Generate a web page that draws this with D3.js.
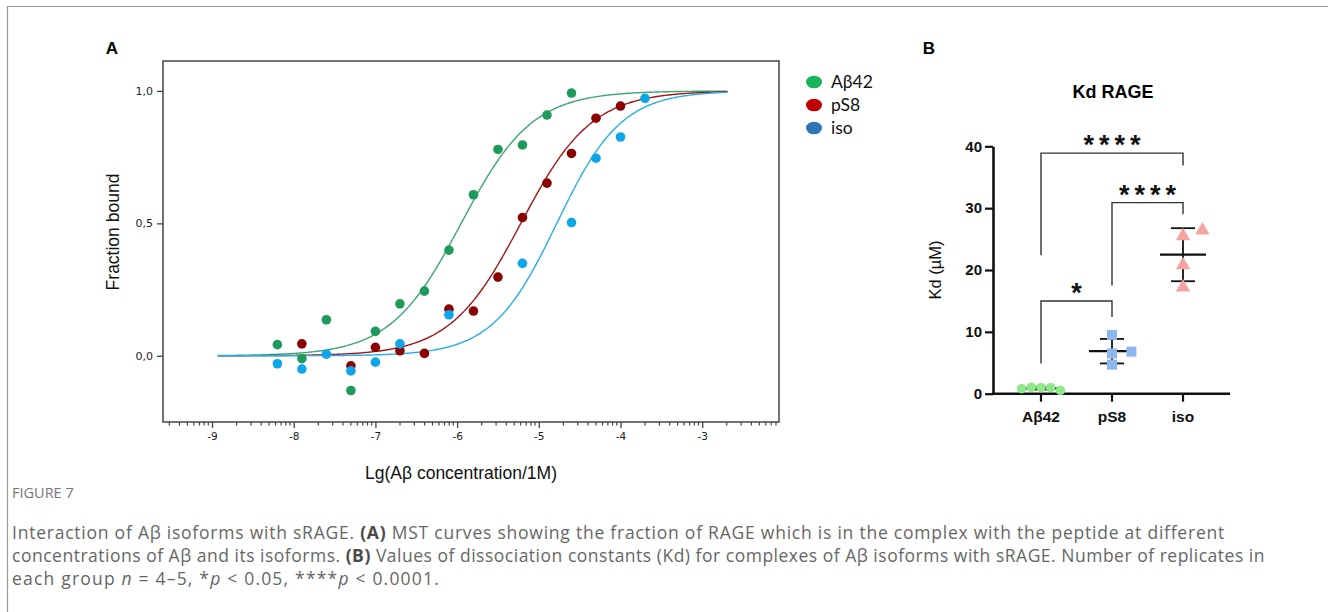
<!DOCTYPE html>
<html>
<head>
<meta charset="utf-8">
<script src="https://cdn.jsdelivr.net/npm/d3@7"></script>
<style>
  body { margin: 0; background: #fff; }
  svg { display: block; }
</style>
</head>
<body>
<svg id="fig" width="1328" height="612"></svg>
<script>
// ---- panel A data: MST binding points ----
const seriesNames = ['Aβ42', 'pS8', 'iso'];
const abX = [-8.2, -7.9, -7.6, -7.3, -7.0, -6.7, -6.4, -6.1, -5.8, -5.5, -5.2, -4.9, -4.6];
const abY = [0.042, -0.011, 0.136, -0.131, 0.092, 0.196, 0.244, 0.399, 0.608, 0.779, 0.796, 0.909, 0.992];
const ps8X = [-7.9, -7.3, -7.0, -6.7, -6.4, -6.1, -5.8, -5.5, -5.2, -4.9, -4.6, -4.3, -4.0];
const ps8Y = [0.045, -0.038, 0.032, 0.019, 0.009, 0.176, 0.169, 0.297, 0.522, 0.652, 0.764, 0.897, 0.943];
const isoX = [-8.2, -7.9, -7.6, -7.3, -7.0, -6.7, -6.1, -5.2, -4.6, -4.3, -4.0, -3.7];
const isoY = [-0.030, -0.050, 0.006, -0.057, -0.024, 0.045, 0.155, 0.349, 0.503, 0.746, 0.826, 0.972];
// fitted curve parameters (log Kd, Hill slope), curve range
const fitLogKd = [-5.95, -5.22, -4.78];
const fitHill = [1.0, 1.0, 1.1];
const fitRange = [-8.93, -2.68];
const yTicksA = [0, 0.5, 1];
const xTicksA = [-9, -8, -7, -6, -5, -4, -3];

// ---- panel B data: Kd values (µM) ----
const groups = ['Aβ42', 'pS8', 'iso'];
const kdAb = [0.97, 0.55, 0.81, 0.97, 1.03];
const kdPs8 = [9.5, 6.5, 4.7, 6.8];
const kdIso = [25.5, 26.4, 20.8, 17.2];
const yTicksB = [0, 10, 20, 30, 40];
// brackets: [group a, group b, bar level, left leg end, right leg end, label]
const brackets = [
  ['Aβ42', 'iso', 38.9, 22.4, 36.9, '****'],
  ['pS8', 'iso', 30.9, 17.5, 29.0, '****'],
  ['Aβ42', 'pS8', 15.0, 4.9, 12.4, '*']
];

const svg = d3.select('#fig');
svg.append('rect').attr('width', 1328).attr('height', 612).attr('fill', '#fff');

// figure frame
svg.append('path')
  .attr('d', 'M7.5,612 L7.5,6.5 L1328,6.5')
  .attr('fill', 'none').attr('stroke', '#999').attr('stroke-width', 1.2);

// ================= Panel A =================
const ptColors = ['#1f9a5c', '#8b0000', '#0ea5e9'];
const lineColors = ['#3aa86e', '#a01515', '#27aee8'];
const legendColors = ['#17b45a', '#c00000', '#2e75b6'];

const xA = d3.scaleLinear().domain([-9.6, -2.06]).range([163, 779]);
const yA = d3.scaleLinear().domain([-0.25, 1.113]).range([422, 61]);

const gA = svg.append('g');

gA.append('text').attr('x', 112).attr('y', 54).attr('text-anchor', 'middle')
  .attr('font-family', 'Liberation Sans, Arial, sans-serif').attr('font-weight', 'bold')
  .attr('font-size', 17).text('A');

// frame
gA.append('rect')
  .attr('x', xA.range()[0]).attr('y', yA.range()[1])
  .attr('width', xA.range()[1] - xA.range()[0])
  .attr('height', yA.range()[0] - yA.range()[1])
  .attr('fill', 'none').attr('stroke', '#444').attr('stroke-width', 1.5);

// y axis
const yAxisA = gA.append('g')
  .attr('transform', `translate(${xA.range()[0]},0)`)
  .call(d3.axisLeft(yA).tickValues(yTicksA).tickSize(6).tickPadding(4)
    .tickFormat(d => d3.format('.1f')(d).replace('.', ',')));
yAxisA.select('.domain').remove();
yAxisA.selectAll('line').attr('stroke', '#444').attr('stroke-width', 1.3);
yAxisA.selectAll('text').attr('font-family', 'DejaVu Sans, Verdana, sans-serif')
  .attr('font-size', 11).attr('fill', '#222');

// x axis: major ticks + log minor ticks
const xAxisA = gA.append('g')
  .attr('transform', `translate(0,${yA.range()[0]})`)
  .call(d3.axisBottom(xA).tickValues(xTicksA).tickSize(6).tickPadding(5)
    .tickFormat(d => String(d)));
xAxisA.select('.domain').remove();
xAxisA.selectAll('line').attr('stroke', '#444').attr('stroke-width', 1.3);
xAxisA.selectAll('text').attr('font-family', 'DejaVu Sans, Verdana, sans-serif')
  .attr('font-size', 10.5).attr('fill', '#222');

const minorTicks = [];
for (let dec = -10; dec <= -3; dec++) {
  for (let k = 2; k <= 9; k++) {
    const v = dec + Math.log10(k);
    if (v > xA.domain()[0] && v < xA.domain()[1]) minorTicks.push(v);
  }
}
gA.append('g').selectAll('line').data(minorTicks).join('line')
  .attr('x1', d => xA(d)).attr('x2', d => xA(d))
  .attr('y1', yA.range()[0]).attr('y2', yA.range()[0] + 3.5)
  .attr('stroke', '#444').attr('stroke-width', 1.2);

// axis titles
gA.append('text')
  .attr('transform', `translate(119,232) rotate(-90)`)
  .attr('text-anchor', 'middle')
  .attr('font-family', 'Liberation Sans, Arial, sans-serif').attr('font-size', 17.5)
  .attr('fill', '#111').text('Fraction bound');
gA.append('text')
  .attr('x', 461).attr('y', 479).attr('text-anchor', 'middle')
  .attr('font-family', 'Liberation Sans, Arial, sans-serif').attr('font-size', 17.5)
  .attr('fill', '#111').text('Lg(Aβ concentration/1M)');

// fitted curves
const curveX = d3.range(fitRange[0], fitRange[1] + 0.001, 0.02);
const line = d3.line().x(d => xA(d[0])).y(d => yA(d[1])).curve(d3.curveBasis);
fitLogKd.forEach((kd, i) => {
  const pts = curveX.map(x => [x, 1 / (1 + Math.pow(10, fitHill[i] * (kd - x)))]);
  gA.append('path').datum(pts)
    .attr('d', line).attr('fill', 'none')
    .attr('stroke', lineColors[i]).attr('stroke-width', 1.4);
});

// points
const seriesA = [[abX, abY], [ps8X, ps8Y], [isoX, isoY]];
seriesA.forEach(([xs, ys], i) => {
  gA.append('g').selectAll('circle').data(xs.map((x, j) => [x, ys[j]])).join('circle')
    .attr('cx', d => xA(d[0])).attr('cy', d => yA(d[1])).attr('r', 4.8)
    .attr('fill', ptColors[i]);
});

// legend
const leg = gA.append('g').attr('transform', 'translate(814,82)');
seriesNames.forEach((name, i) => {
  const row = leg.append('g').attr('transform', `translate(0,${i * 23})`);
  row.append('ellipse').attr('rx', 8).attr('ry', 6.3).attr('fill', legendColors[i]);
  row.append('text').attr('x', 17).attr('y', 6)
    .attr('font-family', 'Lato, Carlito, sans-serif').attr('font-size', 17.5)
    .attr('fill', '#111').text(name);
});

// ================= Panel B =================
const xB = d3.scalePoint().domain(groups).range([1041, 1183]);
const yB = d3.scaleLinear().domain([0, 40]).range([393.7, 146.3]);
const axisX0 = 993, axisX1 = 1230;
const gB = svg.append('g');
const arial = 'Liberation Sans, Arial, sans-serif';

gB.append('text').attr('x', 929).attr('y', 54).attr('text-anchor', 'middle')
  .attr('font-family', arial).attr('font-weight', 'bold').attr('font-size', 17).text('B');
gB.append('text').attr('x', 1113).attr('y', 98).attr('text-anchor', 'middle')
  .attr('font-family', arial).attr('font-weight', 'bold').attr('font-size', 18).text('Kd RAGE');

const yAxisB = gB.append('g').attr('transform', `translate(${axisX0},0)`)
  .call(d3.axisLeft(yB).tickValues(yTicksB).tickSize(8).tickPadding(3).tickSizeOuter(0));
yAxisB.select('.domain').attr('stroke', '#111').attr('stroke-width', 2.6);
yAxisB.selectAll('.tick line').attr('stroke', '#111').attr('stroke-width', 2.2);
yAxisB.selectAll('text').attr('font-family', arial).attr('font-weight', 'bold')
  .attr('font-size', 15).attr('fill', '#111');

// x axis line with category ticks
gB.append('line').attr('x1', axisX0 - 1.3).attr('x2', axisX1)
  .attr('y1', yB(0)).attr('y2', yB(0)).attr('stroke', '#111').attr('stroke-width', 2.6);
const xt = gB.append('g').selectAll('g').data(groups).join('g')
  .attr('transform', d => `translate(${xB(d)},${yB(0)})`);
xt.append('line').attr('y1', 0).attr('y2', 8).attr('stroke', '#111').attr('stroke-width', 2.2);
xt.append('text').attr('y', 28).attr('text-anchor', 'middle')
  .attr('font-family', arial).attr('font-weight', 'bold').attr('font-size', 15.5)
  .attr('fill', '#111').text(d => d);

gB.append('text')
  .attr('transform', `translate(941,${yB(20)}) rotate(-90)`)
  .attr('text-anchor', 'middle').attr('font-family', arial).attr('font-size', 16.5)
  .attr('fill', '#111').text('Kd (µM)');

// significance brackets
const bg = gB.append('g');
const starSpacing = 5;
brackets.forEach(([a, b, lvl, endA, endB, lab]) => {
  const xa = xB(a), xb = xB(b);
  bg.append('path')
    .attr('d', `M${xa},${yB(endA)} L${xa},${yB(lvl)} L${xb},${yB(lvl)} L${xb},${yB(endB)}`)
    .attr('fill', 'none').attr('stroke', '#333').attr('stroke-width', 1.4);
  bg.append('text').attr('x', (xa + xb) / 2 + starSpacing / 2).attr('y', yB(lvl) + 1)
    .attr('text-anchor', 'middle').attr('font-family', arial).attr('font-weight', 'bold')
    .attr('font-size', 27).attr('letter-spacing', starSpacing).attr('fill', '#111').text(lab);
});

// mean ± SD
const kdSets = [kdAb, kdPs8, kdIso];
const eb = gB.append('g');
kdSets.forEach((vals, i) => {
  const cx = xB(groups[i]);
  const m = d3.mean(vals), sd = d3.deviation(vals);
  eb.append('line').attr('x1', cx - 23).attr('x2', cx + 23)
    .attr('y1', yB(m)).attr('y2', yB(m)).attr('stroke', '#111').attr('stroke-width', 2.2);
  eb.append('line').attr('x1', cx).attr('x2', cx)
    .attr('y1', yB(m - sd)).attr('y2', yB(m + sd)).attr('stroke', '#111').attr('stroke-width', 1.8);
  [m - sd, m + sd].forEach(v => {
    eb.append('line').attr('x1', cx - 12).attr('x2', cx + 12)
      .attr('y1', yB(v)).attr('y2', yB(v)).attr('stroke', '#111').attr('stroke-width', 1.8);
  });
});

// scatter with simple swarm offsets
const slotOrder = [0, 2, -2, 1, -1, 3, -3];
const markSize = 9.7;
function swarm(vals) {
  const placed = [];
  return vals.map(v => {
    const y = yB(v);
    for (const s of slotOrder) {
      if (!placed.some(p => p.s === s && Math.abs(p.y - y) < markSize)) {
        placed.push({ s, y });
        return { v, off: s * markSize };
      }
    }
    return { v, off: 0 };
  });
}
const sym = [d3.symbolCircle, d3.symbolSquare, d3.symbolTriangle];
const symSize = [72, 100, 90];
const symColors = ['#8fe88a', '#8db6ee', '#f5a3a3'];
kdSets.forEach((vals, i) => {
  const cx = xB(groups[i]);
  gB.append('g').selectAll('path').data(swarm(vals)).join('path')
    .attr('transform', d => `translate(${cx + d.off},${yB(d.v)})`)
    .attr('d', d3.symbol(sym[i], symSize[i]))
    .attr('fill', symColors[i]);
});

// ================= Caption =================
const cap = svg.append('g').attr('font-family', 'Open Sans, Lato, sans-serif').attr('fill', '#666');
cap.append('text').attr('x', 12).attr('y', 498).attr('font-size', 14.5).attr('fill', '#777')
  .text('FIGURE 7');
const capLines = [
  [['Interaction of Aβ isoforms with sRAGE. '], ['(A)', 'b'], [' MST curves showing the fraction of RAGE which is in the complex with the peptide at different']],
  [['concentrations of Aβ and its isoforms. '], ['(B)', 'b'], [' Values of dissociation constants (Kd) for complexes of Aβ isoforms with sRAGE. Number of replicates in']],
  [['each group '], ['n', 'i'], [' = 4–5, *'], ['p', 'i'], [' < 0.05, ****'], ['p', 'i'], [' < 0.0001.']]
];
// line right ends in the reference layout
const capEnds = [1225, 1265, 440];
capLines.forEach((parts, i) => {
  const t = cap.append('text').attr('x', 12).attr('y', 539 + i * 23).attr('font-size', 17.5);
  parts.forEach(([s, st]) => {
    const sp = t.append('tspan').text(s);
    if (st === 'b') sp.attr('font-weight', 'bold').attr('fill', '#4a4a4a');
    if (st === 'i') sp.attr('font-style', 'italic');
  });
  const w = t.node().getComputedTextLength();
  const n = parts.reduce((acc, p) => acc + p[0].length, 0);
  t.attr('letter-spacing', ((capEnds[i] - 12) - w) / n);
});
</script>
</body>
</html>
